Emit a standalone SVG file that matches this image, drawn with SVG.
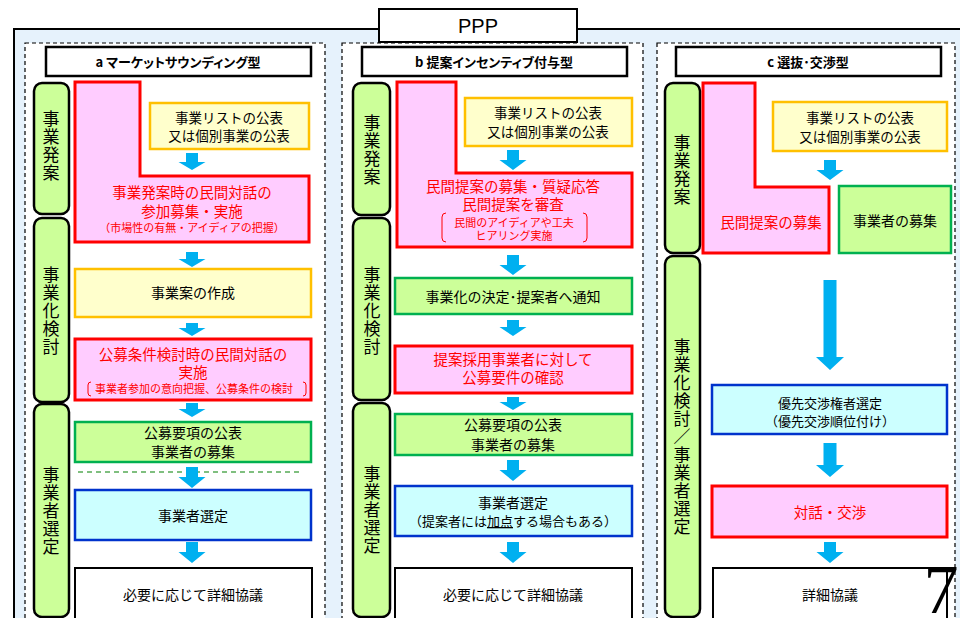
<svg xmlns="http://www.w3.org/2000/svg" width="960" height="618" viewBox="0 0 960 618">
<style>
text{font-family:"Noto Sans CJK JP","Noto Sans",sans-serif;text-anchor:middle;fill:#000}
.t{font-size:14px}
.y{font-size:13.5px}
.r{font-size:14.5px;fill:#ff0000}
.sr{font-size:11px;fill:#ff0000}
.s{font-size:13px}
.hd{font-size:13px;font-weight:bold;font-feature-settings:"palt"}
.lb{font-size:17px;writing-mode:vertical-rl;text-orientation:upright;letter-spacing:1px}
.col{fill:#fff;stroke:#000;stroke-width:1.2;stroke-dasharray:4 3}
.head{fill:#fff;stroke:#000;stroke-width:2.5}
.lab{fill:#ccff99;stroke:#000;stroke-width:2.5}
.pk{fill:#ffccff;stroke:#ff0000;stroke-width:3}
.ye{fill:#ffffcc;stroke:#ffc000;stroke-width:2.5}
.gr{fill:#ccff99;stroke:#00b050;stroke-width:2.5}
.bl{fill:#ccffff;stroke:#0033cc;stroke-width:2.5}
.wh{fill:#fff;stroke:#000;stroke-width:2}
.ar{fill:#00b0f0}
.br{fill:none;stroke:#ff0000;stroke-width:1}
</style>
<rect width="960" height="618" fill="#fff"/>
<g id="frame">
<rect x="14" y="29" width="960" height="610" fill="#e6f2fc" stroke="#000" stroke-width="2"/>
<rect class="col" x="25" y="43" width="300" height="600"/>
<rect class="col" x="342" y="43" width="301" height="600"/>
<rect class="col" x="657" y="43" width="298" height="600"/>
</g>
<g id="ppp">
<rect x="379" y="9" width="198" height="33" fill="#fff" stroke="#000" stroke-width="2"/>
<text x="478" y="33" style="font-family:'Liberation Sans',sans-serif;font-size:20px">PPP</text>
</g>
<g id="head-a"><rect class="head" x="46" y="47" width="265" height="29"/><text class="hd" x="178" y="67">a マーケットサウンディング型</text></g>
<g id="head-b"><rect class="head" x="362" y="47" width="265" height="29"/><text class="hd" x="494" y="67">b 提案インセンティブ付与型</text></g>
<g id="head-c"><rect class="head" x="676" y="47" width="265" height="29"/><text class="hd" x="808" y="67">c 選抜･交渉型</text></g>

<!-- phase labels column a -->
<g id="a-lab1"><rect class="lab" x="34" y="83" width="35" height="131" rx="8"/>
<text class="lb" x="51" y="146">事業発案</text></g>
<g id="a-lab2"><rect class="lab" x="34" y="218" width="35" height="184" rx="8"/>
<text class="lb" x="51" y="311">事業化検討</text></g>
<g id="a-lab3"><rect class="lab" x="34" y="404" width="35" height="213" rx="8"/>
<text class="lb" x="51" y="511">事業者選定</text></g>

<!-- phase labels column b -->
<g id="b-lab1"><rect class="lab" x="353" y="83" width="37" height="132" rx="8"/>
<text class="lb" x="372" y="150">事業発案</text></g>
<g id="b-lab2"><rect class="lab" x="353" y="218" width="37" height="182" rx="8"/>
<text class="lb" x="372" y="311">事業化検討</text></g>
<g id="b-lab3"><rect class="lab" x="353" y="403" width="37" height="214" rx="8"/>
<text class="lb" x="372" y="510">事業者選定</text></g>

<!-- phase labels column c -->
<g id="c-lab1"><rect class="lab" x="665" y="83" width="35" height="170" rx="8"/>
<text class="lb" x="682" y="170">事業発案</text></g>
<g id="c-lab2"><rect class="lab" x="665" y="256" width="35" height="361" rx="8"/>
<text class="lb" x="682" y="437">事業化検討／事業者選定</text></g>

<!-- column a nodes -->
<g id="a-dialog1"><path class="pk" d="M75,82 H140 V176 H309 V242 H75 Z"/>
<text class="r" x="192" y="198">事業発案時の民間対話の</text>
<text class="r" x="192" y="217">参加募集・実施</text>
<text class="sr" x="192" y="232">（市場性の有無・アイディアの把握）</text></g>
<g id="a-list"><rect class="ye" x="150" y="103" width="159" height="46"/>
<text class="y" x="229" y="123">事業リストの公表</text>
<text class="y" x="229" y="141">又は個別事業の公表</text></g>
<g id="a-plan"><rect class="ye" x="75" y="269" width="236" height="48"/>
<text class="t" x="193" y="298">事業案の作成</text></g>
<g id="a-dialog2"><rect class="pk" x="75" y="339" width="236" height="61"/>
<text class="r" x="193" y="360">公募条件検討時の民間対話の</text>
<text class="r" x="193" y="378">実施</text>
<path class="br" d="M91,382 Q88,382 88,385 V393 Q88,396 91,396 M303,382 Q306,382 306,385 V393 Q306,396 303,396"/>
<text class="sr" x="194" y="393">事業者参加の意向把握、公募条件の検討</text></g>
<g id="a-koubo"><rect class="gr" x="75" y="422" width="236" height="40"/>
<text class="t" x="193" y="438">公募要項の公表</text>
<text class="t" x="193" y="457">事業者の募集</text></g>
<g id="a-select"><rect class="bl" x="75" y="490" width="236" height="50"/>
<text class="t" x="193" y="521">事業者選定</text></g>
<g id="a-detail"><rect class="wh" x="75" y="568" width="237" height="60"/>
<text class="t" x="193" y="600">必要に応じて詳細協議</text></g>

<!-- column b nodes -->
<g id="b-propose"><path class="pk" d="M397,82 H456 V173 H632 V247 H397 Z"/>
<text class="r" x="513" y="192">民間提案の募集・質疑応答</text>
<text class="r" x="513" y="210">民間提案を審査</text>
<path class="br" d="M446,213 Q442,213 442,217 V238 Q442,242 446,242 M583,213 Q587,213 587,217 V238 Q587,242 583,242"/>
<text class="sr" x="514" y="227">民間のアイディアや工夫</text>
<text class="sr" x="514" y="240">ヒアリング実施</text></g>
<g id="b-list"><rect class="ye" x="465" y="98" width="167" height="48"/>
<text class="y" x="548" y="118">事業リストの公表</text>
<text class="y" x="548" y="137">又は個別事業の公表</text></g>
<g id="b-decide"><rect class="gr" x="395" y="278" width="237" height="36"/>
<text class="t" x="513" y="302">事業化の決定･提案者へ通知</text></g>
<g id="b-confirm"><rect class="pk" x="395" y="346" width="237" height="47"/>
<text class="r" x="513" y="365">提案採用事業者に対して</text>
<text class="r" x="513" y="383">公募要件の確認</text></g>
<g id="b-koubo"><rect class="gr" x="395" y="414" width="237" height="41"/>
<text class="t" x="513" y="430">公募要項の公表</text>
<text class="t" x="513" y="450">事業者の募集</text></g>
<g id="b-select"><rect class="bl" x="395" y="486" width="237" height="50"/>
<text class="t" x="513" y="508">事業者選定</text>
<text class="s" x="513" y="526">（提案者には<tspan text-decoration="underline">加点</tspan>する場合もある）</text></g>
<g id="b-detail"><rect class="wh" x="395" y="568" width="237" height="60"/>
<text class="t" x="513" y="600">必要に応じて詳細協議</text></g>

<!-- column c nodes -->
<g id="c-propose"><path class="pk" d="M703,83 H755 V187 H829 V253 H703 Z"/>
<text class="r" x="771" y="228">民間提案の募集</text></g>
<g id="c-list"><rect class="ye" x="773" y="102" width="174" height="49"/>
<text class="y" x="860" y="123">事業リストの公表</text>
<text class="y" x="860" y="142">又は個別事業の公表</text></g>
<g id="c-boshu"><rect class="gr" x="839" y="186" width="112" height="67"/>
<text class="t" x="895" y="226">事業者の募集</text></g>
<g id="c-priority"><rect class="bl" x="712" y="385" width="235" height="49"/>
<text class="s" x="830" y="408">優先交渉権者選定</text>
<text class="s" x="830" y="426">（優先交渉順位付け）</text></g>
<g id="c-nego"><rect class="pk" x="712" y="486" width="235" height="51"/>
<text class="r" x="830" y="518">対話・交渉</text></g>
<g id="c-detail"><rect class="wh" x="713" y="568" width="234" height="60"/>
<text class="t" x="830" y="600">詳細協議</text></g>

<g id="connectors">
<line x1="78" y1="472" x2="302" y2="472" stroke="#008000" stroke-width="1.2" stroke-dasharray="5 4"/>
<path class="ar" d="M186,153 h12 v9 h7.5 l-13.5,8 l-13.5,-8 h7.5 z"/>
<path class="ar" d="M186,252 h12 v7 h7.5 l-13.5,8 l-13.5,-8 h7.5 z"/>
<path class="ar" d="M186,323 h12 v5 h7.5 l-13.5,8 l-13.5,-8 h7.5 z"/>
<path class="ar" d="M186,403 h12 v6 h7.5 l-13.5,8 l-13.5,-8 h7.5 z"/>
<path class="ar" d="M186,467 h12 v10 h7.5 l-13.5,11 l-13.5,-11 h7.5 z"/>
<path class="ar" d="M186,542 h12 v10 h7.5 l-13.5,11 l-13.5,-11 h7.5 z"/>
<path class="ar" d="M507,150 h12 v10 h7.5 l-13.5,10 l-13.5,-10 h7.5 z"/>
<path class="ar" d="M507,255 h12 v10 h7.5 l-13.5,10 l-13.5,-10 h7.5 z"/>
<path class="ar" d="M507,320 h12 v7 h7.5 l-13.5,9 l-13.5,-9 h7.5 z"/>
<path class="ar" d="M507,397 h12 v5 h7.5 l-13.5,8 l-13.5,-8 h7.5 z"/>
<path class="ar" d="M507,460 h12 v10 h7.5 l-13.5,11 l-13.5,-11 h7.5 z"/>
<path class="ar" d="M507,542 h12 v10 h7.5 l-13.5,11 l-13.5,-11 h7.5 z"/>
<path class="ar" d="M824,160 h12 v10 h7.5 l-13.5,10 l-13.5,-10 h7.5 z"/>
<path class="ar" d="M823.5,280 h13 v77 h7.5 l-14,13 l-14,-13 h7.5 z"/>
<path class="ar" d="M823.5,443 h13 v22 h7.5 l-14,12 l-14,-12 h7.5 z"/>
<path class="ar" d="M824,542 h12 v10 h7.5 l-13.5,11 l-13.5,-11 h7.5 z"/>
</g>
<text x="941" y="613" style="font-family:'Liberation Serif',serif;font-size:70px">7</text>
</svg>
